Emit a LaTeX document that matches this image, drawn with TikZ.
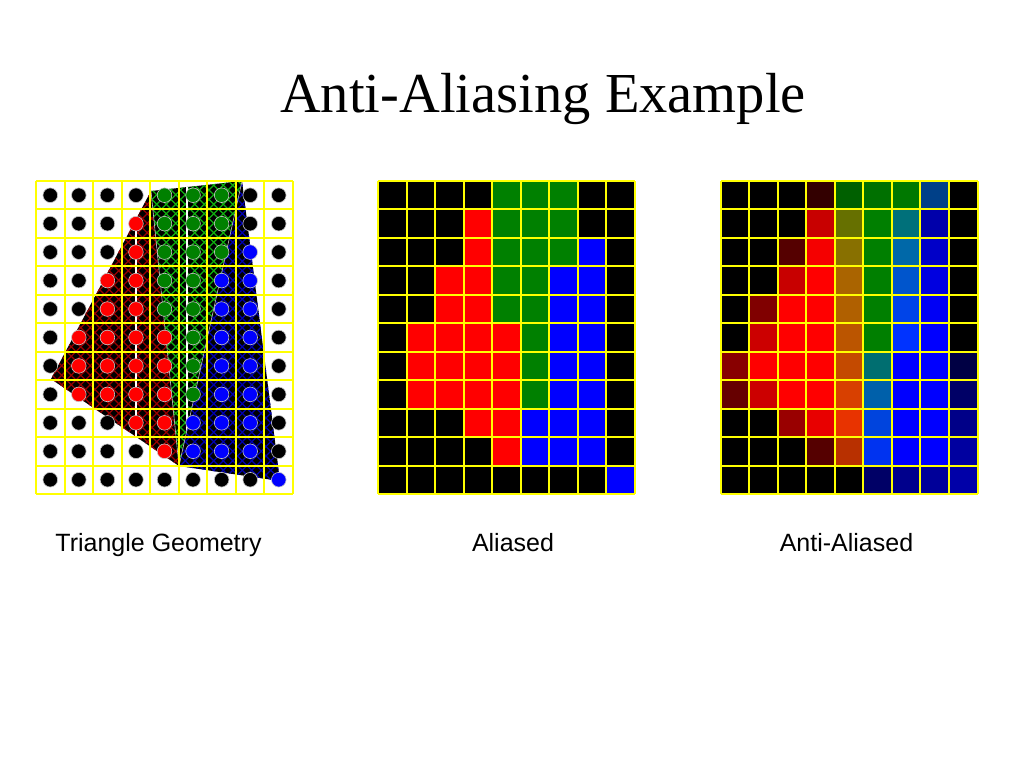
\documentclass[tikz,border=0pt]{standalone}
\usepackage{fontspec}
\setmainfont{Liberation Serif}
\newfontfamily\labelfont{Liberation Sans}
\definecolor{cK}{HTML}{000000}
\definecolor{cR}{HTML}{FF0000}
\definecolor{cG}{HTML}{008000}
\definecolor{cB}{HTML}{0000FF}
\definecolor{gridyellow}{HTML}{FFFF00}
\definecolor{hatchR}{HTML}{9A0000}
\definecolor{hatchG}{HTML}{10B010}
\definecolor{hatchB}{HTML}{0000B0}
\def\aliasdata{{K,K,K,K,G,G,G,K,K},{K,K,K,R,G,G,G,K,K},{K,K,K,R,G,G,G,B,K},{K,K,R,R,G,G,B,B,K},{K,K,R,R,G,G,B,B,K},{K,R,R,R,R,G,B,B,K},{K,R,R,R,R,G,B,B,K},{K,R,R,R,R,G,B,B,K},{K,K,K,R,R,B,B,B,K},{K,K,K,K,R,B,B,B,K},{K,K,K,K,K,K,K,K,B}}
\def\aadata{{000000,000000,000000,330000,006000,007000,007800,004088,000000},{000000,000000,000000,C80000,667000,007F00,00707A,0000AA,000000},{000000,000000,550000,F50000,887000,007F00,0068A8,0000C8,000000},{000000,000000,C80000,FF0000,AA6400,007F00,0055CC,0000E0,000000},{000000,800000,FF0000,FF0000,B06000,007F00,0044E8,0000F5,000000},{000000,CC0000,FF0000,FF0000,BB5500,007F00,0033FF,0000FF,000000},{880000,FF0000,FF0000,FF0000,C44A00,006E70,0000FF,0000FF,000044},{660000,CC0000,FF0000,FF0000,D84000,0060AA,0000FF,0000FF,000066},{000000,000000,990000,E80000,E83300,0044DD,0000FF,0000FF,000088},{000000,000000,000000,550000,B83000,0033F0,0000FF,0000FF,0000A0},{000000,000000,000000,000000,000000,000066,00008C,000099,0000A8}}
\def\cw{28.56}
\def\chh{28.45}
\begin{document}
\begin{tikzpicture}[x=1pt,y=-1pt,
  gridline/.style={draw=gridyellow,line width=2pt},
  hatchline/.style={line width=1.3pt},
  triedge/.style={draw=gray!55,line width=0.6pt},
  capt/.style={font=\labelfont\fontsize{25}{30}\selectfont,anchor=base,inner sep=0pt}]
\useasboundingbox (0,0) rectangle (1024,768);
\fill[white] (0,0) rectangle (1024,768);
% title
\node[anchor=base,inner sep=0pt,font=\fontsize{56.5}{60}\selectfont] (title) at (543,112) {Anti-Aliasing Example};
% ---------- left: triangle geometry ----------
\coordinate (pT) at (151,191);
\coordinate (pL) at (51,379);
\coordinate (pB) at (179,466);
\coordinate (pTR) at (242,181);
\coordinate (pBR) at (280,481);
% red triangle
\begin{scope}
\clip (pT) -- (pL) -- (pB) -- cycle;
\fill[black] (0,150) rectangle (400,520);
\foreach \k in {-50,...,13} \draw[hatchR,hatchline] ({\k*9.5},0) -- ++(600,600);
\foreach \k in {21,...,84} \draw[hatchR,hatchline] ({\k*9.5},0) -- ++(-600,600);
\draw[white,line width=1.2pt] (136,150) -- (136,520);
\end{scope}
% green triangle
\begin{scope}
\clip (pT) -- (pTR) -- (pB) -- cycle;
\fill[black] (0,150) rectangle (400,520);
\foreach \k in {-50,...,13} \draw[hatchG,hatchline] ({\k*9.5},0) -- ++(600,600);
\foreach \k in {21,...,84} \draw[hatchG,hatchline] ({\k*9.5},0) -- ++(-600,600);
\draw[white,line width=1.2pt] (187,150) -- (187,520);
\end{scope}
% blue triangle
\begin{scope}
\clip (pTR) -- (pBR) -- (pB) -- cycle;
\fill[black] (0,150) rectangle (400,520);
\foreach \k in {-50,...,13} \draw[hatchB,hatchline] ({\k*9.5},0) -- ++(600,600);
\foreach \k in {21,...,84} \draw[hatchB,hatchline] ({\k*9.5},0) -- ++(-600,600);
\end{scope}
\draw[triedge] (pT) -- (pB);
\draw[triedge] (pTR) -- (pB);
% left grid lines
\foreach \i in {0,...,9} \draw[gridline] ({36+\i*\cw},181) -- ++(0,{11*\chh});
\foreach \j in {0,...,11} \draw[gridline] (36,{181+\j*\chh}) -- ++({9*\cw},0);
% dots
\foreach \row [count=\r from 0] in \aliasdata {
  \foreach \c [count=\i from 0] in \row {
    \filldraw[fill=c\c,draw=gray!45,line width=0.6pt] ({36+(\i+0.5)*\cw},{181+(\r+0.5)*\chh}) circle (7.3pt);
  }
}
% ---------- middle: aliased ----------
\foreach \row [count=\r from 0] in \aliasdata {
  \foreach \c [count=\i from 0] in \row {
    \fill[c\c] ({378+\i*\cw},{181+\r*\chh}) rectangle ++(\cw,\chh);
  }
}
\foreach \i in {0,...,9} \draw[gridline] ({378+\i*\cw},181) -- ++(0,{11*\chh});
\foreach \j in {0,...,11} \draw[gridline] (378,{181+\j*\chh}) -- ++({9*\cw},0);
% ---------- right: anti-aliased ----------
\foreach \row [count=\r from 0] in \aadata {
  \foreach \c [count=\i from 0] in \row {
    \definecolor{cellc}{HTML}{\c}
    \fill[cellc] ({720.5+\i*\cw},{181+\r*\chh}) rectangle ++(\cw,\chh);
  }
}
\foreach \i in {0,...,9} \draw[gridline] ({720.5+\i*\cw},181) -- ++(0,{11*\chh});
\foreach \j in {0,...,11} \draw[gridline] (720.5,{181+\j*\chh}) -- ++({9*\cw},0);
% captions
\node[capt] (cap1) at (158.5,551) {Triangle Geometry};
\node[capt] (cap2) at (513,551) {Aliased};
\node[capt] (cap3) at (846.5,551) {Anti-Aliased};
\end{tikzpicture}
\end{document}
